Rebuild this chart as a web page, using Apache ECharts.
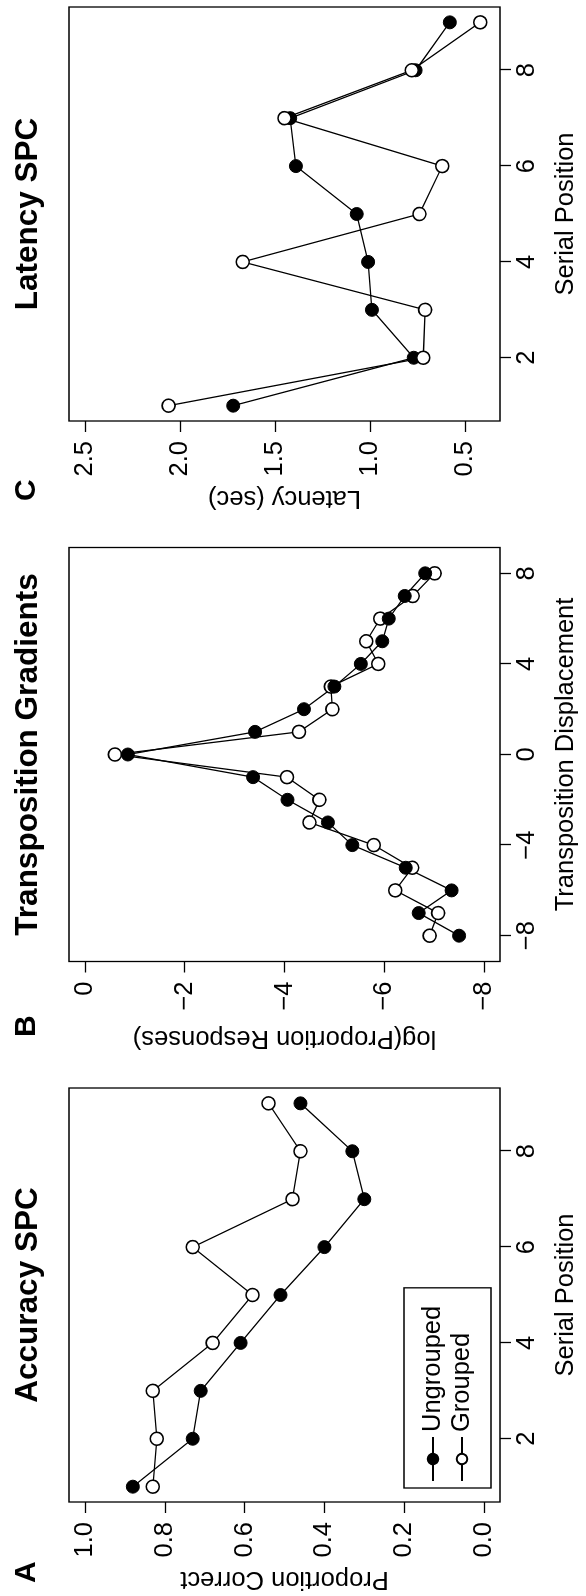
<!DOCTYPE html>
<html>
<head>
<meta charset="utf-8">
<script src="https://cdn.jsdelivr.net/npm/echarts@6/dist/echarts.min.js"></script>
<style>
  html, body { margin: 0; padding: 0; background: #fff; }
  body { width: 586px; height: 1596px; position: relative; overflow: hidden; }
  /* the figure is laid out landscape and turned a quarter turn */
  #chart {
    position: absolute; left: 0; top: 0;
    width: 1596px; height: 586px;
    transform-origin: 0 0;
    transform: translate(0, 1596px) rotate(-90deg);
  }
</style>
</head>
<body>
<div id="chart"></div>
<script>
// panel A: accuracy by serial position
var positions = [1, 2, 3, 4, 5, 6, 7, 8, 9];
var accUngrouped = [0.88, 0.73, 0.71, 0.61, 0.51, 0.40, 0.30, 0.33, 0.46];
var accGrouped = [0.83, 0.82, 0.83, 0.68, 0.58, 0.73, 0.48, 0.46, 0.54];

// panel B: transposition gradients
var displacements = [-8, -7, -6, -5, -4, -3, -2, -1, 0, 1, 2, 3, 4, 5, 6, 7, 8];
var gradUngrouped = [-7.50, -6.69, -7.35, -6.43, -5.36, -4.87, -4.06, -3.37, -0.86,
                     -3.41, -4.39, -5.00, -5.53, -5.96, -6.09, -6.41, -6.82];
var gradGrouped = [-6.91, -7.08, -6.22, -6.56, -5.79, -4.50, -4.70, -4.05, -0.60,
                   -4.29, -4.96, -4.93, -5.88, -5.64, -5.92, -6.57, -7.01];

// panel C: latency by serial position
var latUngrouped = [1.72, 0.77, 0.99, 1.01, 1.07, 1.39, 1.42, 0.76, 0.58];
var latGrouped = [2.06, 0.72, 0.71, 1.67, 0.74, 0.62, 1.45, 0.78, 0.42];

// tick labels
var posTicks = [2, 4, 6, 8];
var accTicks = [0, 0.2, 0.4, 0.6, 0.8, 1.0];
var dispTicks = [-8, -4, 0, 4, 8];
var gradTicks = [-8, -6, -4, -2, 0];
var latTicks = [0.5, 1.0, 1.5, 2.0, 2.5];

var FONT = '"Liberation Sans", Arial, Helvetica, sans-serif';
var FS = 25.5;

function pairs(xs, ys) {
    var out = [];
    for (var i = 0; i < xs.length; ++i) out.push([xs[i], ys[i]]);
    return out;
}

function minus(s) { return String(s).replace('-', '\u2212'); }

var lefts = [94, 634.5, 1175];
var gw = 414, gh = 431, gtop = 69;

function xAxisFor(idx, min, max, ticks, name) {
    return {
        type: 'value', gridIndex: idx, min: min, max: max, name: name,
        position: 'bottom',
        nameLocation: 'middle', nameGap: 53,
        nameTextStyle: { fontFamily: FONT, fontSize: FS, color: '#000' },
        axisLine: { show: false, onZero: false },
        splitLine: { show: false },
        axisTick: { show: true, length: 11, customValues: ticks,
                    lineStyle: { color: '#000', width: 1.3 } },
        axisLabel: { customValues: ticks, margin: 14, fontFamily: FONT, fontSize: FS,
                     color: '#000', formatter: function (v) { return minus(v); } }
    };
}

function yAxisFor(idx, min, max, ticks, name, digits) {
    return {
        type: 'value', gridIndex: idx, min: min, max: max, name: name,
        position: 'left',
        nameLocation: 'middle', nameGap: 64,
        nameTextStyle: { fontFamily: FONT, fontSize: FS, color: '#000' },
        axisLine: { show: false, onZero: false },
        splitLine: { show: false },
        axisTick: { show: true, length: 11, customValues: ticks,
                    lineStyle: { color: '#000', width: 1.3 } },
        axisLabel: { customValues: ticks, margin: 20, fontFamily: FONT, fontSize: FS,
                     color: '#000', formatter: function (v) { return minus(v.toFixed(digits)); } }
    };
}

function lineSeries(name, idx, data, filled) {
    return {
        name: name, type: 'line', xAxisIndex: idx, yAxisIndex: idx,
        data: data, symbol: 'circle', symbolSize: 13,
        lineStyle: { color: '#000', width: 1.3 },
        itemStyle: filled ? { color: '#000', borderColor: '#000', borderWidth: 1 }
                          : { color: '#fff', borderColor: '#000', borderWidth: 1.6 },
        emphasis: { disabled: true },
        animation: false
    };
}

var titles = [];
var heads = ['Accuracy SPC', 'Transposition Gradients', 'Latency SPC'];
var letters = ['A', 'B', 'C'];
var letterX = [13, 559, 1095];
for (var i = 0; i < 3; ++i) {
    titles.push({ text: heads[i], left: lefts[i] + gw / 2, top: 12, textAlign: 'center', padding: 0,
                  textStyle: { fontFamily: FONT, fontSize: 31.5, fontWeight: 'bold', color: '#000' } });
    titles.push({ text: letters[i], left: letterX[i], top: 12, padding: 0,
                  textStyle: { fontFamily: FONT, fontSize: 30, fontWeight: 'bold', color: '#000' } });
}

var grids = [];
for (var i = 0; i < 3; ++i)
    grids.push({ left: lefts[i], top: gtop, width: gw, height: gh, show: true,
                 borderColor: '#000', borderWidth: 1.3, backgroundColor: 'transparent',
                 containLabel: false, outerBoundsMode: 'none' });

var option = {
    backgroundColor: '#fff',
    animation: false,
    title: titles,
    grid: grids,
    legend: {
        data: ['Ungrouped', 'Grouped'],
        orient: 'vertical', left: 108, top: 404,
        padding: [16, 18, 16, 6], itemGap: 3,
        itemWidth: 44, itemHeight: 13,
        borderColor: '#000', borderWidth: 1.3,
        selectedMode: false,
        textStyle: { fontFamily: FONT, fontSize: FS, color: '#000' }
    },
    xAxis: [
        xAxisFor(0, 0.68, 9.32, posTicks, 'Serial Position'),
        xAxisFor(1, -9.14, 9.14, dispTicks, 'Transposition Displacement'),
        xAxisFor(2, 0.68, 9.32, posTicks, 'Serial Position')
    ],
    yAxis: [
        yAxisFor(0, -0.04, 1.04, accTicks, 'Proportion Correct', 1),
        yAxisFor(1, -8.32, 0.32, gradTicks, 'log(Proportion Responses)', 0),
        yAxisFor(2, 0.316, 2.584, latTicks, 'Latency (sec)', 1)
    ],
    series: [
        lineSeries('Ungrouped', 0, pairs(positions, accUngrouped), true),
        lineSeries('Grouped', 0, pairs(positions, accGrouped), false),
        lineSeries('Grouped', 1, pairs(displacements, gradGrouped), false),
        lineSeries('Ungrouped', 1, pairs(displacements, gradUngrouped), true),
        lineSeries('Ungrouped', 2, pairs(positions, latUngrouped), true),
        lineSeries('Grouped', 2, pairs(positions, latGrouped), false)
    ]
};

var myChart = echarts.init(document.getElementById('chart'), null, { renderer: 'canvas' });
myChart.setOption(option);
</script>
</body>
</html>
